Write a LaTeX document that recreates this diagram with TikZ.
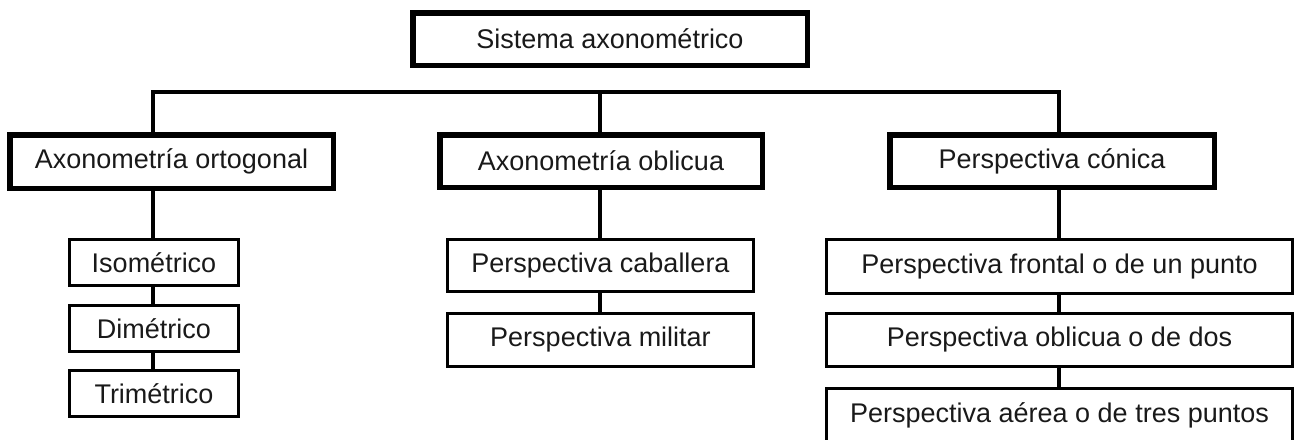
\documentclass[tikz,border=0pt]{standalone}
\usepackage{fontspec}
\setmainfont{Liberation Sans}
\begin{document}
\begin{tikzpicture}[x=1pt,y=-1pt,
  thickbox/.style={draw=black,line width=5.5pt,inner sep=0pt,text=black!90,font=\fontsize{27}{30}\selectfont},
  thinbox/.style={draw=black,line width=3pt,inner sep=0pt,text=black!90,font=\fontsize{27}{30}\selectfont},
  conn/.style={draw=black,line width=3.5pt}]
\useasboundingbox (0,0) rectangle (1295,439);
% level 1
\node[thickbox,minimum width=394.5pt,minimum height=52.5pt] (top) at (610,39) {Sistema axonométrico};
% level 2
\node[thickbox,minimum width=323.5pt,minimum height=53.5pt] (L) at (171.5,161.5) {Axonometría ortogonal};
\node[thickbox,minimum width=322.5pt,minimum height=52.5pt] (M) at (601,161) {Axonometría oblicua};
\node[thickbox,minimum width=324.5pt,minimum height=52.5pt] (R) at (1052,161) {Perspectiva cónica};
% level 3 left
\node[thinbox,minimum width=169pt,minimum height=46pt] (iso) at (154,262.5) {Isométrico};
\node[thinbox,minimum width=169pt,minimum height=46pt] (dim) at (154,328.5) {Dimétrico};
\node[thinbox,minimum width=169pt,minimum height=46pt] (tri) at (154,393.5) {Trimétrico};
% level 3 middle
\node[thinbox,minimum width=306pt,minimum height=52pt] (cab) at (600.5,265.5) {Perspectiva caballera};
\node[thinbox,minimum width=306pt,minimum height=53pt] (mil) at (600.5,340) {Perspectiva militar};
% level 3 right
\node[thinbox,minimum width=466pt,minimum height=54pt] (fro) at (1059.5,266.5) {Perspectiva frontal o de un punto};
\node[thinbox,minimum width=466pt,minimum height=53pt] (obl) at (1059.5,340) {Perspectiva oblicua o de dos};
\node[thinbox,minimum width=466pt,minimum height=53pt] (aer) at (1059.5,415) {Perspectiva aérea o de tres puntos};
% bus
\coordinate (bL) at (153,92);
\coordinate (bM) at (600,92);
\coordinate (bR) at (1059,92);
\draw[conn] (L.north -| bL) -- (bL) -- (bR) -- (R.north -| bR);
\draw[conn] (bM) -- (M.north -| bM);
% left chain
\draw[conn] (L.south -| bL) -- (iso.north -| bL);
\draw[conn] (iso.south -| bL) -- (dim.north -| bL);
\draw[conn] (dim.south -| bL) -- (tri.north -| bL);
% middle chain
\draw[conn] (M.south -| bM) -- (cab.north -| bM);
\draw[conn] (cab.south -| bM) -- (mil.north -| bM);
% right chain
\draw[conn] (R.south -| bR) -- (fro.north -| bR);
\draw[conn] (fro.south -| bR) -- (obl.north -| bR);
\draw[conn] (obl.south -| bR) -- (aer.north -| bR);
\end{tikzpicture}
\end{document}
